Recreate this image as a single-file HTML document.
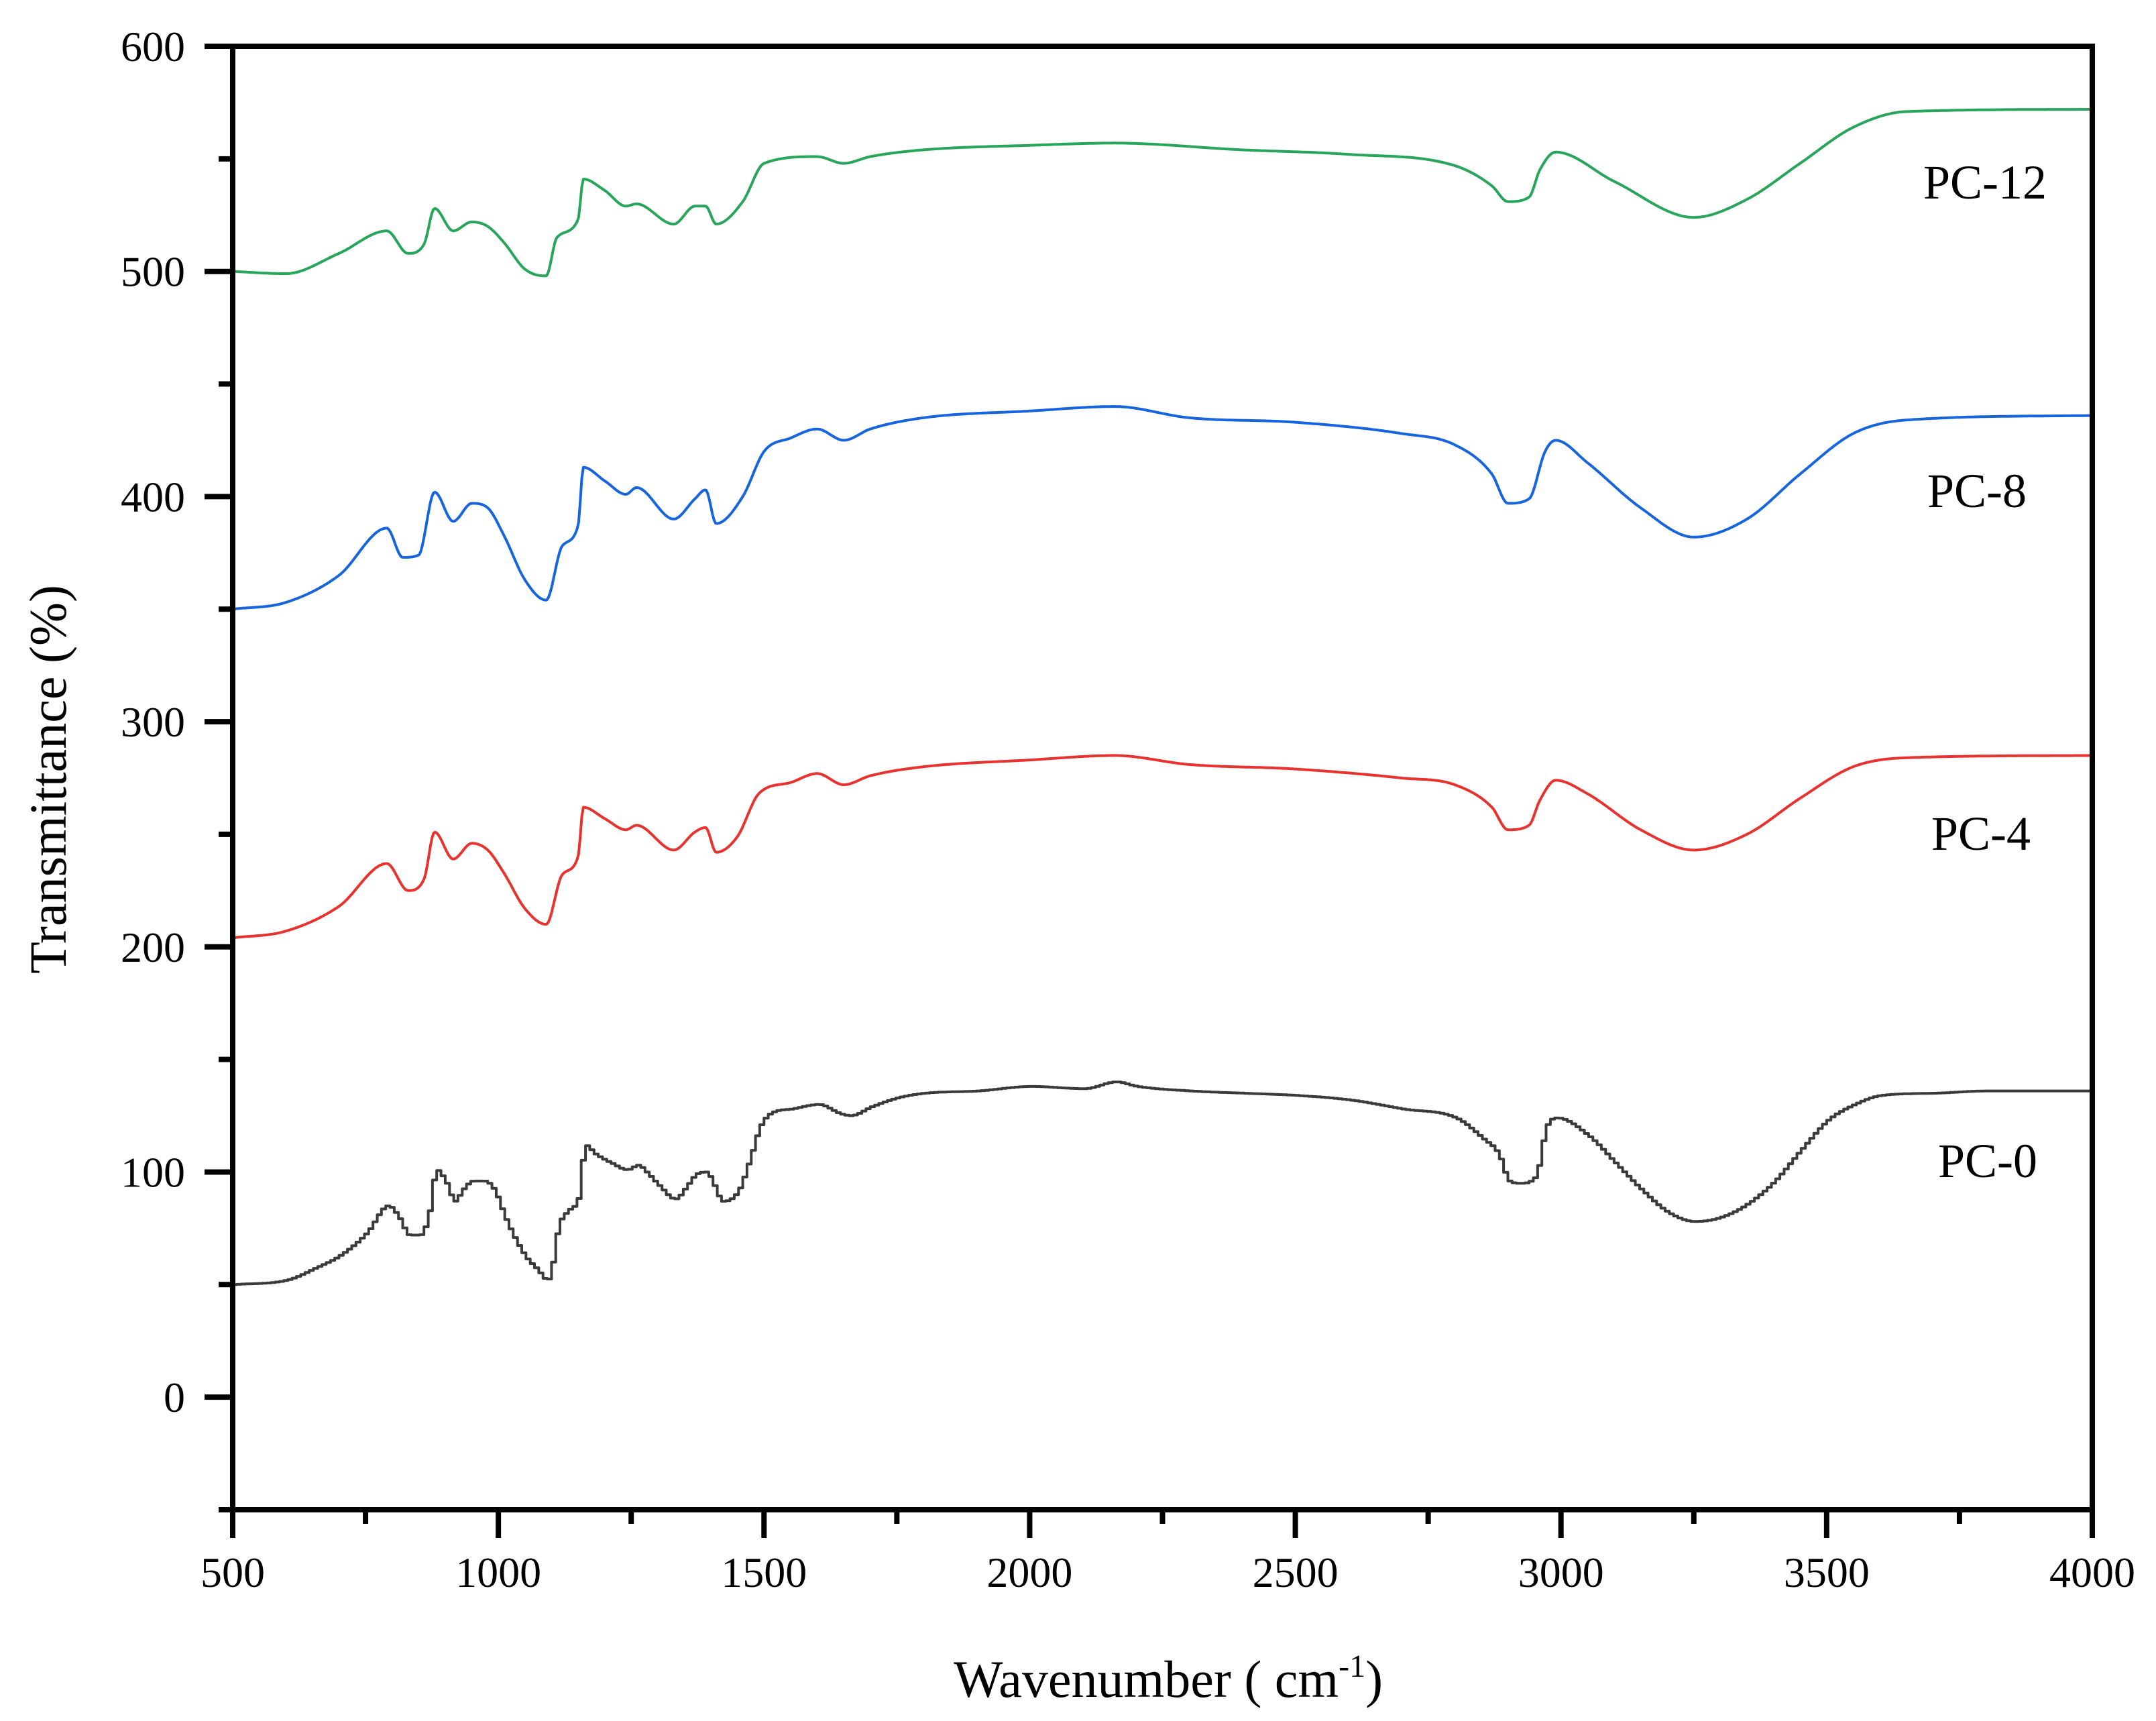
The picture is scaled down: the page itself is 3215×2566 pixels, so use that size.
<!DOCTYPE html>
<html><head><meta charset="utf-8">
<style>
html,body{margin:0;padding:0;background:#fff;}
svg{display:block;font-family:"Liberation Serif",serif;}
</style></head>
<body>
<svg id="chart" width="3215" height="2566" viewBox="0 0 3215 2566" xmlns="http://www.w3.org/2000/svg">
<rect x="0" y="0" width="3215" height="2566" fill="#fff"/>
<g id="series"></g>
<g id="axes"></g>
<text x="1742" y="2530" font-size="78" text-anchor="middle">Wavenumber ( cm<tspan dy="-30" font-size="48">-1</tspan><tspan dy="30">)</tspan></text>
<text x="0" y="0" font-size="78" text-anchor="middle" transform="translate(98,1162) rotate(-90)">Transmittance (%)</text>
</svg>
<script>
const xTicks=[500,1000,1500,2000,2500,3000,3500,4000];
const yTicks=[0,100,200,300,400,500,600];
const seriesNames=["PC-0","PC-4","PC-8","PC-12"];
const pc0X=[500,600,650,700,750,790,810,830,850,870,880,900,915,930,950,970,990,1010,1030,1050,1070,1090,1100,1110,1130,1150,1160,1180,1210,1240,1260,1280,1300,1330,1350,1370,1390,1400,1420,1450,1470,1490,1510,1550,1600,1640,1660,1700,1750,1800,1900,2000,2100,2160,2200,2300,2400,2500,2600,2700,2800,2850,2880,2900,2920,2950,2970,2990,3050,3100,3150,3200,3250,3300,3350,3400,3450,3500,3550,3600,3700,3800,4000];
const pc0Y=[50,52,57,63,73,85,80,72,72,85,101,95,87,92,96,96,92,80,70,62,57,52,60,75,83,90,112,108,104,101,103,99,94,88,93,99,100,96,87,92,105,120,126,128,130,126,125,129,133,135,136,138,137,140,138,136,135,134,132,128,124,115,108,96,95,98,120,124,116,104,92,82,78,80,86,96,110,123,130,134,135,136,136];
const pc4X=[500,600,700,790,830,860,880,915,950,980,1010,1050,1090,1120,1150,1160,1200,1240,1260,1330,1370,1390,1410,1450,1490,1550,1600,1650,1700,1800,2000,2160,2300,2500,2700,2800,2870,2900,2940,2960,2990,3050,3150,3250,3350,3450,3550,3650,4000];
const pc4Y=[204,207,218,237,225,230,251,239,246,243,233,217,210,232,240,262,257,252,254,243,251,253,242,249,268,273,277,272,276,280,283,285,281,279,275,272,262,252,254,265,274,268,252,243,250,266,280,284,285];
const pc8X=[500,600,700,790,820,850,880,915,950,980,1010,1050,1090,1120,1150,1160,1200,1240,1260,1330,1370,1390,1410,1460,1500,1550,1600,1650,1700,1800,2000,2160,2300,2500,2700,2800,2870,2900,2940,2970,2990,3050,3150,3250,3350,3450,3550,3650,4000];
const pc8Y=[350,353,365,386,373,374,402,389,397,395,383,363,354,378,387,413,407,401,404,390,399,403,388,400,420,426,430,425,430,435,438,440,435,433,428,423,410,397,399,420,425,415,395,382,390,410,428,434,436];
const pc12X=[500,600,700,790,830,860,880,915,950,980,1010,1050,1090,1110,1150,1160,1200,1240,1260,1330,1370,1390,1410,1460,1500,1600,1650,1700,1800,2000,2160,2400,2600,2800,2870,2900,2940,2960,2990,3100,3250,3350,3450,3550,3650,4000];
const pc12Y=[500,499,508,518,508,512,528,518,522,520,513,501,498,515,523,541,536,529,530,521,529,529,521,531,548,551,548,551,554,556,557,554,552,547,538,531,533,545,553,540,524,532,548,564,571,572];

const L=347,R=3120,T=69,B=2251;
const xMin=500,xMax=4000,yMin=-50,yMax=600;
const sx=v=>L+(v-xMin)/(xMax-xMin)*(R-L);
const sy=v=>B-(v-yMin)/(yMax-yMin)*(B-T);
const NS="http://www.w3.org/2000/svg";
const gS=document.getElementById('series'),gA=document.getElementById('axes');
function mk(tag,attrs,parent){const e=document.createElementNS(NS,tag);for(const k in attrs)e.setAttribute(k,attrs[k]);parent.appendChild(e);return e;}

// monotone cubic (Fritsch-Carlson) interpolation
function interp(xs,ys){
  const n=xs.length,d=[],m=[];
  for(let i=0;i<n-1;i++)d.push((ys[i+1]-ys[i])/(xs[i+1]-xs[i]));
  m[0]=d[0];m[n-1]=d[n-2];
  for(let i=1;i<n-1;i++)m[i]=(d[i-1]*d[i]<=0)?0:(d[i-1]+d[i])/2;
  for(let i=0;i<n-1;i++){
    if(d[i]===0){m[i]=0;m[i+1]=0;continue;}
    const a=m[i]/d[i],b=m[i+1]/d[i],s=a*a+b*b;
    if(s>9){const t=3/Math.sqrt(s);m[i]=t*a*d[i];m[i+1]=t*b*d[i];}
  }
  return x=>{
    let i=0;while(i<n-2&&x>xs[i+1])i++;
    const h=xs[i+1]-xs[i],t=(x-xs[i])/h,t2=t*t,t3=t2*t;
    return (2*t3-3*t2+1)*ys[i]+(t3-2*t2+t)*h*m[i]+(-2*t3+3*t2)*ys[i+1]+(t3-t2)*h*m[i+1];
  };
}
function linePath(xs,ys,step){
  const f=interp(xs,ys);
  const dx=step?8:3;
  let d="M"+sx(xs[0]).toFixed(1)+","+sy(ys[0]).toFixed(1);
  for(let x=xs[0]+dx;x<=xs[xs.length-1]+0.001;x+=dx){
    const y=f(x);
    if(step)d+="H"+sx(x).toFixed(1)+"V"+sy(y).toFixed(1);
    else d+="L"+sx(x).toFixed(1)+","+sy(y).toFixed(1);
  }
  return d;
}
const defs=[
 {x:pc0X,y:pc0Y,c:"#3a3a3a",step:true,name:"series-pc-0",lab:"PC-0",lx:2964,ly:1755},
 {x:pc4X,y:pc4Y,c:"#e8322e",step:false,name:"series-pc-4",lab:"PC-4",lx:2954,ly:1267},
 {x:pc8X,y:pc8Y,c:"#1665df",step:false,name:"series-pc-8",lab:"PC-8",lx:2948,ly:756},
 {x:pc12X,y:pc12Y,c:"#27a55a",step:false,name:"series-pc-12",lab:"PC-12",lx:2960,ly:296}
];
defs.forEach(s=>{
  const p=mk('path',{d:linePath(s.x,s.y,s.step),fill:"none",stroke:s.c,"stroke-width":4,"stroke-linejoin":"round"},gS);
  
  
  const t=mk('text',{x:s.lx,y:s.ly,"font-size":72,"text-anchor":"middle",fill:"#000"},gS);
  t.textContent=s.lab;
  
  
});
const fr=mk('rect',{x:L,y:T,width:R-L,height:B-T,fill:"none",stroke:"#000","stroke-width":8},gA);


for(let v=-50;v<=600;v+=50){
  const major=v%100===0;
  const tk=mk('line',{x1:L,x2:L-(major?42:21),y1:sy(v),y2:sy(v),stroke:"#000","stroke-width":8},gA);
  
  
}
yTicks.forEach(v=>{
  const t=mk('text',{x:276,y:sy(v)+22,"font-size":64,"text-anchor":"end"},gA);
  t.textContent=v;
  
  
});
for(let v=500;v<=4000;v+=250){
  const major=v%500===0;
  const tk=mk('line',{x1:sx(v),x2:sx(v),y1:B,y2:B+(major?42:21),stroke:"#000","stroke-width":8},gA);
  
  
}
xTicks.forEach(v=>{
  const t=mk('text',{x:sx(v),y:2366,"font-size":64,"text-anchor":"middle"},gA);
  t.textContent=v;
  
  
});
</script>
</body></html>
